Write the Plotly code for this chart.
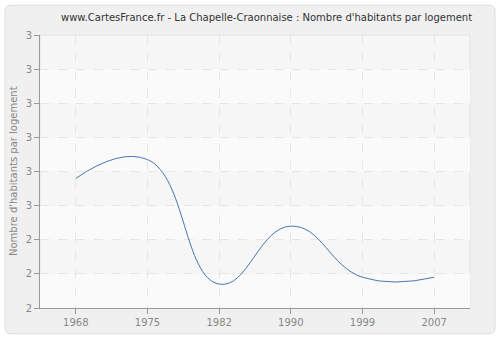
import plotly.graph_objects as go

years = ["1968", "1975", "1982", "1990", "1999", "2007"]
values = [2.58, 2.635, 2.27, 2.44, 2.29, 2.29]
tick_vals = [2.2, 2.3, 2.4, 2.5, 2.6, 2.7, 2.8, 2.9, 3.0]
tick_text = ["2", "2", "2", "3", "3", "3", "3", "3", "3"]
title = "www.CartesFrance.fr - La Chapelle-Craonnaise : Nombre d'habitants par logement"
y_title = "Nombre d'habitants par logement"

L, R, T, B = 40, 30, 35, 30  # margins -> plot area 40..470 x 35..310
W, H = 500, 340
pw, ph = W - L - R, H - T - B

def px(x):
    return (x - L) / pw

def py(y):
    return (H - B - y) / ph

fig = go.Figure()
fig.add_trace(go.Scatter(
    x=years, y=values, mode="lines",
    line=dict(color="#4a77aa", width=1, shape="spline", smoothing=1.3),
    hoverinfo="skip", showlegend=False,
))

shapes = []
# outer rounded panel
x0, x1, y0, y1 = px(5), px(495), py(336), py(5)
rx, ry = 6 / pw, 6 / ph
path = (f"M {x0+rx},{y1} L {x1-rx},{y1} Q {x1},{y1} {x1},{y1-ry} "
        f"L {x1},{y0+ry} Q {x1},{y0} {x1-rx},{y0} L {x0+rx},{y0} "
        f"Q {x0},{y0} {x0},{y0+ry} L {x0},{y1-ry} Q {x0},{y1} {x0+rx},{y1} Z")
shapes.append(dict(type="path", xref="paper", yref="paper", path=path,
                   fillcolor="#f0f0f0", line=dict(color="#dcdcdc", width=1), layer="below"))
# plot area background
shapes.append(dict(type="rect", xref="paper", yref="paper", x0=0, x1=1, y0=0, y1=1,
                   fillcolor="#f6f6f6", line=dict(color="#e4e4e4", width=1), layer="below"))
# lighter bands
for i in range(0, 8, 2):
    lo = tick_vals[i]
    hi = tick_vals[i + 1]
    shapes.append(dict(type="rect", xref="paper", yref="y", x0=0, x1=1, y0=lo, y1=hi,
                       fillcolor="#fafafa", line=dict(width=0), layer="below"))

fig.update_layout(
    width=W, height=H,
    margin=dict(l=L, r=R, t=T, b=B),
    paper_bgcolor="white",
    plot_bgcolor="rgba(0,0,0,0)",
    shapes=shapes,
    font=dict(family="DejaVu Sans", size=10, color="#888888"),
    annotations=[
        dict(text=title, xref="paper", yref="paper", x=px(266), y=py(17),
             xanchor="center", yanchor="middle", showarrow=False,
             font=dict(size=10, color="#333333", family="DejaVu Sans")),
        dict(text=y_title, xref="paper", yref="paper", x=px(13), y=py(172),
             xanchor="center", yanchor="middle", showarrow=False, textangle=-90,
             font=dict(size=10, color="#888888", family="DejaVu Sans")),
    ],
    xaxis=dict(
        type="category", range=[-0.5, 5.5],
        showgrid=True, gridcolor="#e6e6e6", griddash="dash", gridwidth=1,
        showline=True, linecolor="#999999", linewidth=1,
        ticks="outside", ticklen=5, tickcolor="#999999",
        tickfont=dict(size=10, color="#888888"), zeroline=False,
    ),
    yaxis=dict(
        range=[2.2, 3.0], tickvals=tick_vals, ticktext=tick_text,
        showgrid=True, gridcolor="#e6e6e6", griddash="dash", gridwidth=1,
        showline=True, linecolor="#999999", linewidth=1,
        ticks="outside", ticklen=5, tickcolor="#999999",
        tickfont=dict(size=10, color="#888888"), zeroline=False,
    ),
)

fig.write_html("out.html")
